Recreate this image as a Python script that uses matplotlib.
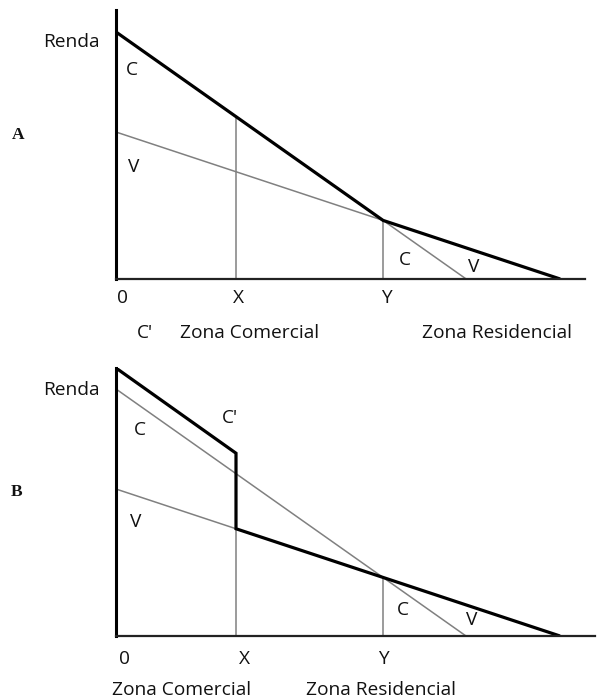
import numpy as np
import matplotlib
matplotlib.use("Agg")
import matplotlib.pyplot as plt

# Bid-rent lines, given as (distance, rent) end points
c_line_x = [0.0, 8.75]      # commercial (C)
c_line_y = [10.0, 0.0]
v_line_x = [0.0, 11.1]      # residential (V)
v_line_y = [5.95, 0.0]
cp_line_x = [0.0, 3.0]      # raised commercial rent (C') in panel B
cp_line_y = [10.85, 7.4]
x_pos = 3.0                 # limit X of commercial zone
x_max = 11.72

plt.rcParams['font.family'] = ['Open Sans', 'DejaVu Sans']

thick = dict(color='black', lw=2.3, solid_capstyle='butt', solid_joinstyle='miter')
thin = dict(color='#808080', lw=1.1)
fs = 13.8


def line_at(xs, ys, x):
    return np.interp(x, xs, ys)


def intersect():
    # crossing of C and V lines
    sc = (c_line_y[1] - c_line_y[0]) / (c_line_x[1] - c_line_x[0])
    sv = (v_line_y[1] - v_line_y[0]) / (v_line_x[1] - v_line_x[0])
    xi = (v_line_y[0] - c_line_y[0]) / (sc - sv)
    return xi, c_line_y[0] + sc * xi


def style_axes(ax, ytop, xright):
    ax.set_xlim(0, xright)
    ax.set_ylim(0, ytop)
    for s in ['top', 'right']:
        ax.spines[s].set_visible(False)
    ax.spines['left'].set_linewidth(2.2)
    ax.spines['bottom'].set_linewidth(1.6)
    ax.spines['bottom'].set_color('#222222')
    ax.set_xticks([])
    ax.set_yticks([])
    ax.patch.set_alpha(0)


def txt(ax, x, y, s, **kw):
    kw.setdefault('ha', 'center')
    kw.setdefault('va', 'center')
    kw.setdefault('fontsize', fs)
    ax.text(x, y, s, clip_on=False, color='#111111', **kw)


fig = plt.figure(figsize=(6, 7), dpi=100)
yi_x, yi_y = intersect()

# ---- Panel A ----
axA = fig.add_axes([116 / 600, 421 / 700, 469 / 600, 269 / 700])
style_axes(axA, 10.89, x_max)
axA.plot(c_line_x, c_line_y, **thin)
axA.plot(v_line_x, v_line_y, **thin)
axA.plot([x_pos, x_pos], [0, line_at(c_line_x, c_line_y, x_pos)], **thin)
axA.plot([yi_x, yi_x], [0, yi_y], **thin)
axA.plot([c_line_x[0], yi_x, v_line_x[1]], [c_line_y[0], yi_y, v_line_y[1]], **thick)

txt(axA, -0.4, 9.6, 'Renda', ha='right')
txt(axA, 0.4, 8.46, 'C')
txt(axA, 0.43, 4.53, 'V')
txt(axA, -2.45, 5.83, 'A', family='Liberation Serif', fontweight='bold', fontsize=12.5)
txt(axA, 0.15, -0.77, '0')
txt(axA, x_pos + 0.05, -0.77, 'X')
txt(axA, yi_x + 0.08, -0.75, 'Y')
txt(axA, 0.73, -2.19, "C'")
txt(axA, 3.35, -2.19, 'Zona Comercial')
txt(axA, 9.52, -2.19, 'Zona Residencial')
txt(axA, 7.22, 0.77, 'C')
txt(axA, 8.93, 0.49, 'V')

# ---- Panel B ----
axB = fig.add_axes([116 / 600, 64 / 700, 479 / 600, 268 / 700])
style_axes(axB, cp_line_y[0], 479 / 40)
axB.plot(c_line_x, c_line_y, **thin)
axB.plot(v_line_x, v_line_y, **thin)
axB.plot([x_pos, x_pos], [0, line_at(v_line_x, v_line_y, x_pos)], **thin)
axB.plot([yi_x, yi_x], [0, yi_y], **thin)
axB.plot(cp_line_x + [x_pos, v_line_x[1]],
         cp_line_y + [line_at(v_line_x, v_line_y, x_pos), v_line_y[1]], **thick)

txt(axB, -0.4, 9.96, 'Renda', ha='right')
txt(axB, 2.85, 8.83, "C'")
txt(axB, 0.6, 8.34, 'C')
txt(axB, 0.48, 4.62, 'V')
txt(axB, -2.48, 5.83, 'B', family='Liberation Serif', fontweight='bold', fontsize=12.5)
txt(axB, 0.2, -0.93, '0')
txt(axB, x_pos + 0.2, -0.93, 'X')
txt(axB, yi_x, -0.93, 'Y')
txt(axB, 1.65, -2.19, 'Zona Comercial')
txt(axB, 6.63, -2.19, 'Zona Residencial')
txt(axB, 7.18, 1.05, 'C')
txt(axB, 8.9, 0.65, 'V')

fig.savefig('out.png', dpi=100)
